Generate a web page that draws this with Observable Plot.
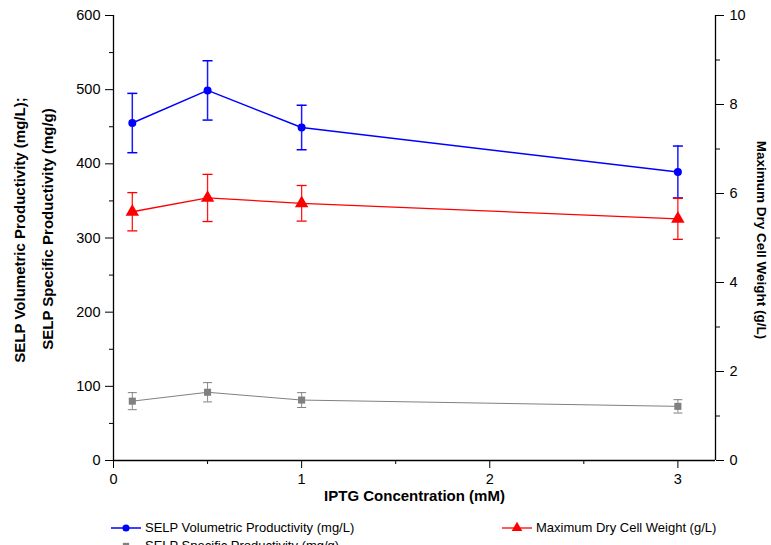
<!DOCTYPE html>
<html>
<head>
<meta charset="utf-8">
<script src="https://cdn.jsdelivr.net/npm/d3@7"></script>
<script src="https://cdn.jsdelivr.net/npm/@observablehq/plot@0.6"></script>
<style>
  html, body { margin: 0; padding: 0; background: #fff; }
  body { width: 771px; height: 545px; overflow: hidden; font-family: "Liberation Sans", Arial, sans-serif; }
  #legend { position: relative; width: 771px; height: 40px; font-size: 13px; color: #000; }
  .item { position: absolute; display: flex; align-items: center; white-space: nowrap; }
  .item svg { margin-right: 3px; }
</style>
</head>
<body>
<div id="chart"></div>
<div id="legend"></div>
<script>
// IPTG concentrations (mM)
const iptg = [0.1, 0.5, 1.0, 3.0];
// SELP volumetric productivity (mg/L) and error
const volumetric = [455, 499, 449, 389];
const volumetricErr = [40, 40, 30, 35];
// Maximum dry cell weight (g/L) and error (right axis)
const dcw = [5.59, 5.9, 5.78, 5.43];
const dcwErr = [0.43, 0.53, 0.4, 0.46];
// SELP specific productivity (mg/g) and error
const specific = [80, 92, 81.5, 73];
const specificErr = [11.5, 13, 10, 9];

const leftTicks = [0, 100, 200, 300, 400, 500, 600];
const leftMinor = [50, 150, 250, 350, 450, 550];
const rightTicks = [0, 2, 4, 6, 8, 10];
const rightMinor = [1, 3, 5, 7, 9];
const xTicks = [0, 1, 2, 3];
const xMinor = [0.5, 1.5, 2.5];

const RATIO = 60; // 600 (left) / 10 (right)

const series = [
  {name: "SELP Volumetric Productivity (mg/L)", color: "#0000ff", symbol: "circle", r: 4, vals: volumetric, errs: volumetricErr, scale: 1, sw: 1.5, cap: 5},
  {name: "Maximum Dry Cell Weight (g/L)", color: "#ff0000", symbol: "triangle", r: 5, vals: dcw, errs: dcwErr, scale: RATIO, sw: 1.3, cap: 5},
  {name: "SELP Specific Productivity (mg/g)", color: "#808080", symbol: "square", r: 4, vals: specific, errs: specificErr, scale: 1, sw: 1, cap: 4.5}
];

const rows = s => iptg.map((x, i) => ({x, y: s.vals[i] * s.scale, lo: (s.vals[i] - s.errs[i]) * s.scale, hi: (s.vals[i] + s.errs[i]) * s.scale}));

function capSymbol(half) {
  return { draw(ctx) { ctx.moveTo(-half, 0); ctx.lineTo(half, 0); } };
}

const marks = [];
// frame lines
marks.push(Plot.ruleY([0], {stroke: "#000", strokeWidth: 1.3}));
marks.push(Plot.ruleX([0, 3.2], {stroke: "#000", strokeWidth: 1.3}));

for (const s of series) {
  const d = rows(s);
  marks.push(Plot.line(d, {x: "x", y: "y", stroke: s.color, strokeWidth: s.sw}));
  marks.push(Plot.ruleX(d, {x: "x", y1: "lo", y2: "hi", stroke: s.color, strokeWidth: s.sw, strokeOpacity: 0.9}));
  marks.push(Plot.dot(d, {x: "x", y: "lo", symbol: capSymbol(s.cap), stroke: s.color, strokeWidth: s.sw, r: 3}));
  marks.push(Plot.dot(d, {x: "x", y: "hi", symbol: capSymbol(s.cap), stroke: s.color, strokeWidth: s.sw, r: 3}));
  marks.push(Plot.dot(d, {x: "x", y: "y", symbol: s.symbol, fill: s.color, stroke: "none", r: s.r}));
}

// axes
marks.push(Plot.axisY({ticks: leftTicks, tickSize: 8, tickPadding: 5, fontSize: 14.5, label: null, tickFormat: d => d}));
marks.push(Plot.axisY({ticks: leftMinor, tickSize: 4, text: null, label: null}));
marks.push(Plot.axisY({anchor: "right", ticks: rightTicks.map(v => v * RATIO), tickFormat: d => d / RATIO, tickSize: 8, tickPadding: 6, fontSize: 14.5, label: null}));
marks.push(Plot.axisY({anchor: "right", ticks: rightMinor.map(v => v * RATIO), tickSize: 4, text: null, label: null}));
marks.push(Plot.axisX({ticks: xTicks, tickSize: 8, tickPadding: 5, fontSize: 14.5, label: null, tickFormat: d => d}));
marks.push(Plot.axisX({ticks: xMinor, tickSize: 4, text: null, label: null}));

// axis titles
marks.push(Plot.text(["IPTG Concentration (mM)"], {frameAnchor: "bottom", dy: 40, fontSize: 15, fontWeight: "bold"}));
marks.push(Plot.text(["SELP Volumetric Productivity (mg/L);"], {frameAnchor: "left", textAnchor: "middle", dx: -93, dy: -8, rotate: -90, fontSize: 15, fontWeight: "bold"}));
marks.push(Plot.text(["SELP Specific Productivity (mg/g)"], {frameAnchor: "left", textAnchor: "middle", dx: -65, dy: -9, rotate: -90, fontSize: 15, fontWeight: "bold"}));
marks.push(Plot.text(["Maximum Dry Cell Weight (g/L)"], {frameAnchor: "right", textAnchor: "middle", dx: 46, dy: 2, rotate: 90, fontSize: 13.5, fontWeight: "bold"}));

const chart = Plot.plot({
  width: 771,
  height: 512,
  marginTop: 15,
  marginBottom: 52,
  marginLeft: 113,
  marginRight: 56,
  style: {fontFamily: "'Liberation Sans', Arial, sans-serif", fontSize: "14px", color: "#000", background: "#fff", overflow: "visible"},
  x: {domain: [0, 3.2]},
  y: {domain: [0, 600]},
  marks
});
document.getElementById("chart").appendChild(chart);

// legend
const legend = document.getElementById("legend");
const legendPos = [
  {left: 110, top: 8},
  {left: 501, top: 8},
  {left: 110, top: 26}
];
series.forEach((s, i) => {
  const el = document.createElement("div");
  el.className = "item";
  el.style.left = legendPos[i].left + "px";
  el.style.top = legendPos[i].top + "px";
  const svg = d3.create("svg").attr("width", 32).attr("height", 14);
  svg.append("line").attr("x1", 1).attr("x2", 31).attr("y1", 7).attr("y2", 7).attr("stroke", s.color).attr("stroke-width", s.sw);
  const sym = {circle: d3.symbolCircle, triangle: d3.symbolTriangle, square: d3.symbolSquare}[s.symbol];
  svg.append("path").attr("d", d3.symbol(sym, s.symbol === "triangle" ? 50 : 40)()).attr("transform", "translate(16,7)").attr("fill", s.color);
  el.appendChild(svg.node());
  const t = document.createElement("span");
  t.textContent = s.name;
  el.appendChild(t);
  legend.appendChild(el);
});
</script>
</body>
</html>
